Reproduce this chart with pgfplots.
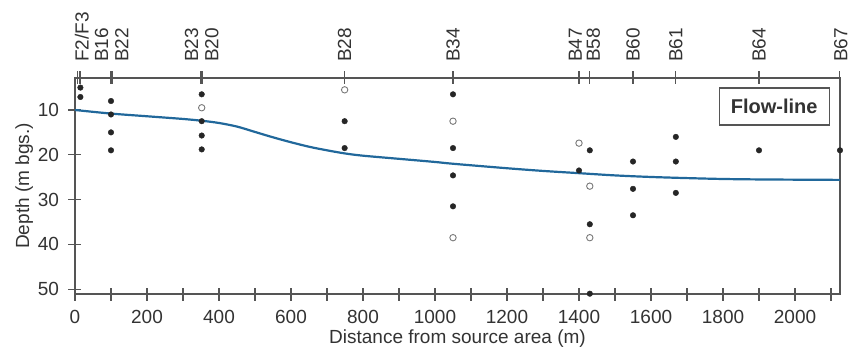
\documentclass[border=0pt]{standalone}
\usepackage{fontspec}
\setmainfont{Liberation Sans}
\usepackage{pgfplots}
\pgfplotsset{compat=1.18}
\definecolor{axgray}{RGB}{85,85,85}
\definecolor{txtgray}{RGB}{51,51,51}
\definecolor{flowblue}{RGB}{33,104,155}
\definecolor{opengray}{RGB}{120,120,120}
\begin{document}
\begin{tikzpicture}
\begin{axis}[
  name=main,
  at={(0,0)}, anchor=south west,
  scale only axis, width=765bp, height=216bp,
  xmin=0, xmax=2125, ymin=2.86, ymax=51.07,
  y dir=reverse,
  axis line style={axgray, line width=1.3bp},
  every tick/.style={axgray, line width=1.3bp},
  tick align=center,
  major tick length=13bp, minor tick length=13bp,
  xtick pos=bottom, ytick pos=left,
  xtick={0,200,...,2000}, minor xtick={100,300,...,2100},
  ytick={10,20,30,40,50},
  tick label style={font=\fontsize{19bp}{22bp}\selectfont, text=txtgray},
  /pgf/number format/assume math mode=true,
  /pgf/number format/1000 sep={},
  xticklabel style={yshift=-6bp},
  yticklabel style={xshift=-6bp},
  xlabel={Distance from source area (m)},
  ylabel={Depth (m bgs.)},
  label style={font=\fontsize{19bp}{22bp}\selectfont, text=txtgray},
  xlabel style={yshift=1bp},
  ylabel style={yshift=-2bp},
  clip=false,
]
\addplot[flowblue, line width=2.2bp, smooth, tension=0.5] coordinates {
 (0,10.0) (100,10.8) (200,11.4) (300,12.0) (352,12.4) (400,12.9)
 (450,13.7) (500,14.9) (550,16.1) (600,17.2) (650,18.2) (700,19.0)
 (750,19.7) (800,20.2) (900,20.9) (1000,21.6) (1050,22.0) (1200,23.0)
 (1300,23.6) (1400,24.1) (1500,24.6) (1600,24.95) (1700,25.2)
 (1800,25.4) (1900,25.5) (2000,25.55) (2125,25.6)
};
\addplot[only marks, mark=*, mark size=2.8bp, black, mark options={fill=black!85, draw=black!85}] coordinates {
 (15,5.0) (15,7.1)
 (100,8.0) (100,11.0) (100,15.0) (100,19.0)
 (352,6.5) (352,12.5) (352,15.7) (352,18.8)
 (749,12.5) (749,18.5)
 (1050,6.5) (1050,18.5) (1050,24.6) (1050,31.5)
 (1400,23.5)
 (1430,19.0) (1430,35.5) (1430,51.0)
 (1550,21.5) (1550,27.6) (1550,33.5)
 (1669,16.0) (1669,21.5) (1669,28.5)
 (1900,19.0)
 (2125,19.0)
};
\addplot[only marks, mark=o, mark size=3.2bp, opengray, mark options={line width=0.9bp, fill=white}] coordinates {
 (352,9.5) (749,5.5) (1050,12.5) (1050,38.5) (1400,17.4) (1430,27.0) (1430,38.5)
};
\node[draw=axgray, line width=1.2bp, minimum width=110bp, minimum height=37bp,
      font=\fontsize{20bp}{23bp}\selectfont\bfseries, text=txtgray, fill=white, inner sep=0pt]
  at (rel axis cs:0.914,0.868) {Flow-line};
% station labels
\begin{scope}[every node/.style={rotate=90, anchor=west, xshift=16bp, font=\fontsize{19bp}{22bp}\selectfont, text=txtgray, inner sep=0pt}]
\node at (axis cs:19,2.86) {F2/F3};
\node at (axis cs:74,2.86) {B16};
\node at (axis cs:130,2.86) {B22};
\node at (axis cs:324,2.86) {B23};
\node at (axis cs:380,2.86) {B20};
\node at (axis cs:749,2.86) {B28};
\node at (axis cs:1050,2.86) {B34};
\node at (axis cs:1390,2.86) {B47};
\node at (axis cs:1440,2.86) {B58};
\node at (axis cs:1550,2.86) {B60};
\node at (axis cs:1669,2.86) {B61};
\node at (axis cs:1900,2.86) {B64};
\node at (axis cs:2127,2.86) {B67};
\end{scope}
\end{axis}
\begin{axis}[
  at={(0,0)}, anchor=south west,
  scale only axis, width=765bp, height=216bp,
  xmin=0, xmax=2125, ymin=2.86, ymax=51.07,
  y dir=reverse,
  axis x line*=top, axis y line=none,
  axis line style={axgray, line width=1.3bp},
  every tick/.style={axgray, line width=1.3bp},
  tick align=center, major tick length=13bp,
  xtick={7,14,98,103,350,355,749,1050,1400,1430,1550,1669,1900,2124},
  xticklabels={},
  ytick=\empty,
]
\end{axis}
\pgfresetboundingbox
\path[use as bounding box] (-75bp,-57bp) rectangle (775bp,294bp);
\end{tikzpicture}
\end{document}
